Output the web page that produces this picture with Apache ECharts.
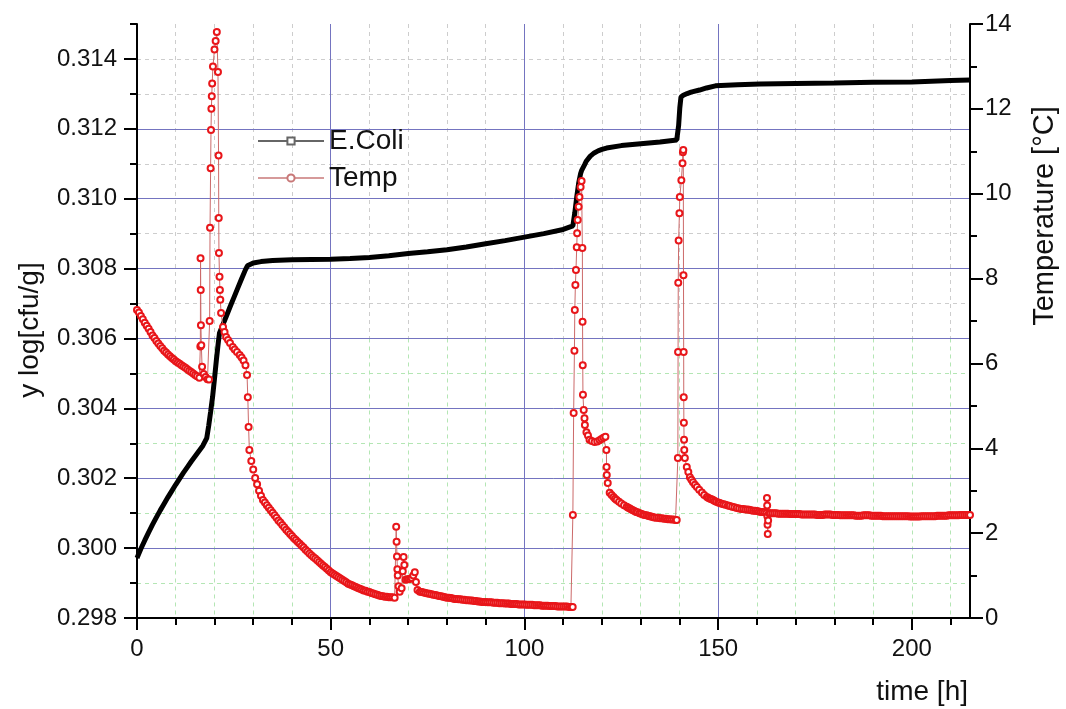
<!DOCTYPE html>
<html>
<head>
<meta charset="utf-8">
<script src="https://cdn.jsdelivr.net/npm/echarts@6/dist/echarts.min.js"></script>
<style>html,body{margin:0;padding:0;background:#fff}#c{width:1066px;height:709px}</style>
</head>
<body>
<div id="c"></div>
<script>
// ---- data ----
const timeTicks = [0, 50, 100, 150, 200];
const timeMinorTicks = [10, 20, 30, 40, 60, 70, 80, 90, 110, 120, 130, 140, 160, 170, 180, 190, 210];
const logTicks = [0.298, 0.300, 0.302, 0.304, 0.306, 0.308, 0.310, 0.312, 0.314];
const logMinorTicks = [0.299, 0.301, 0.303, 0.305, 0.307, 0.309, 0.311, 0.313, 0.315];
const tempTicks = [0, 2, 4, 6, 8, 10, 12, 14];
const tempMinorTicks = [1, 3, 5, 7, 9, 11, 13];

const ecoli = [
 [0,0.29972],[1,0.29998],[2,0.30022],[3,0.30045],[4,0.30067],[5,0.30088],[6,0.30108],[7,0.30127],
 [8,0.30146],[9,0.30164],[10,0.30182],[11,0.30199],[12,0.30216],[13,0.30232],[14,0.30248],[15,0.30263],
 [16,0.30278],[17,0.30293],[18,0.30315],[18.5,0.3035],[19,0.3039],[19.5,0.30432],[20,0.30485],[20.5,0.3054],
 [21,0.3059],[21.3,0.30616],[22,0.30635],[23,0.30662],[24,0.3069],[25,0.30717],[26,0.30744],[27,0.30771],
 [28,0.30797],[28.5,0.30808],[29,0.30813],[30,0.30816],[32,0.3082],[35,0.30823],[40,0.30825],[45,0.30826],
 [50,0.30827],[55,0.30829],[60,0.30832],[65,0.30837],[70,0.30843],[75,0.30848],[80,0.30854],[85,0.30862],
 [90,0.30871],[95,0.3088],[100,0.3089],[105,0.309],[110,0.30912],[112.5,0.30922],[113,0.3096],[113.5,0.31005],
 [114,0.31045],[114.5,0.31072],[114.8,0.31082],[115.5,0.31097],[116,0.31108],[117,0.31122],[118,0.31131],
 [119,0.31137],[120,0.31141],[121.2,0.31145],[125,0.31152],[130,0.31157],[135,0.31162],[139.3,0.31168],
 [139.8,0.3121],[140.1,0.3126],[140.4,0.31291],[141,0.31296],[142,0.31301],[143,0.31305],[145.2,0.31311],
 [147,0.31317],[149.3,0.31323],[155,0.31326],[160.8,0.31328],[170,0.3133],[180,0.31331],[190,0.31333],
 [200,0.31334],[210,0.31338],[215,0.3134]
];

const temp = [
 [0,7.26],[0.5,7.2],[1,7.12],[1.5,7.04],[2,6.96],[2.5,6.89],[3,6.82],[3.5,6.74],[4,6.66],[4.5,6.6],[5,6.53],
 [5.5,6.47],[6,6.41],[6.5,6.36],[7,6.3],[7.5,6.26],[8,6.21],[8.5,6.17],[9,6.13],[9.5,6.09],[10,6.05],[10.5,6.02],
 [11,5.99],[11.5,5.96],[12,5.93],[12.5,5.9],[13,5.86],[13.5,5.83],[14,5.8],[14.5,5.76],[15,5.73],[15.5,5.7],
 [16.1,5.66],[16.35,6.4],[16.4,8.48],[16.45,7.73],[16.5,6.9],[16.6,6.43],[16.8,5.92],[17.2,5.75],[17.7,5.68],
 [18.2,5.63],[18.6,5.62],[18.75,7.0],[18.85,9.2],[19.0,10.6],[19.1,11.5],[19.2,12.0],[19.3,12.3],[19.4,12.6],
 [19.6,13.0],[20.0,13.4],[20.3,13.6],[20.6,13.81],[20.9,12.87],[21.05,10.9],[21.1,9.43],[21.15,8.6],[21.3,8.04],
 [21.4,7.73],[21.5,7.5],[21.7,7.19],[22.2,6.86],[22.6,6.74],[23.0,6.62],[23.5,6.55],[24.0,6.48],[24.7,6.39],
 [25.2,6.33],[25.8,6.27],[26.5,6.2],[27.0,6.14],[27.5,6.07],[28.0,5.96],[28.4,5.73],[28.6,5.2],[28.8,4.5],
 [29,3.96],[29.5,3.7],[30,3.5],[30.5,3.3],[31,3.15],[31.5,3.0],[32,2.88],[32.5,2.78],[33,2.72],[33.5,2.66],
 [34,2.6],[34.5,2.54],[35,2.48],[35.5,2.42],[36,2.36],[36.5,2.3],[37,2.25],[37.5,2.19],[38,2.14],[38.5,2.08],
 [39,2.03],[39.5,1.98],[40,1.93],[40.5,1.88],[41,1.84],[41.5,1.79],[42,1.75],[42.5,1.7],[43,1.66],[43.5,1.61],
 [44,1.57],[44.5,1.52],[45,1.48],[45.5,1.44],[46,1.4],[46.5,1.36],[47,1.32],[47.5,1.28],[48,1.24],[48.5,1.2],
 [49,1.16],[49.5,1.12],[50,1.08],[50.5,1.05],[51,1.02],[51.5,0.99],[52,0.96],[52.5,0.93],[53,0.9],[53.5,0.87],
 [54,0.84],[54.5,0.81],[55,0.79],[55.5,0.77],[56,0.75],[56.5,0.73],[57,0.71],[57.5,0.69],[58,0.67],[58.5,0.65],
 [59,0.64],[59.5,0.62],[60,0.61],[60.5,0.59],[61,0.58],[61.5,0.56],[62,0.55],[62.5,0.53],[63,0.52],[63.5,0.51],
 [64,0.5],[64.5,0.5],[65,0.49],[65.5,0.49],[66,0.49],[66.5,0.48],
 [66.9,2.15],[67.0,1.8],[67.1,1.45],[67.2,1.15],[67.3,1.0],[67.5,0.75],[67.8,0.62],[68.3,0.7],[68.6,1.1],
 [68.8,1.44],[69.0,1.25],[69.3,0.9],[69.7,0.91],[70.1,0.92],[70.5,0.92],[70.9,0.94],[71.3,1.0],[71.7,1.08],
 [72.0,0.85],[72.4,0.66],[73,0.62],[73.5,0.61],[74,0.6],[74.5,0.59],[75,0.58],[75.5,0.57],[76,0.56],[76.5,0.55],
 [77,0.54],[77.5,0.53],[78,0.52],[78.5,0.51],[79,0.5],[79.5,0.49],[80,0.48],[80.5,0.48],[81,0.47],[81.5,0.46],
 [82,0.45],[82.5,0.45],[83,0.44],[83.5,0.44],[84,0.43],[84.5,0.43],[85,0.42],[85.5,0.42],[86,0.41],[86.5,0.41],
 [87,0.4],[87.5,0.4],[88,0.39],[88.5,0.39],[89,0.38],[89.5,0.38],[90,0.38],[90.5,0.37],[91,0.37],[91.5,0.37],
 [92,0.36],[92.5,0.36],[93,0.36],[93.5,0.35],[94,0.35],[94.5,0.35],[95,0.34],[95.5,0.34],[96,0.34],[96.5,0.33],
 [97,0.33],[97.5,0.33],[98,0.33],[98.5,0.32],[99,0.32],[99.5,0.32],[100,0.32],[100.5,0.31],[101,0.31],
 [101.5,0.31],[102,0.31],[102.5,0.3],[103,0.3],[103.5,0.3],[104,0.3],[104.5,0.29],[105,0.29],[105.5,0.29],
 [106,0.29],[106.5,0.28],[107,0.28],[107.5,0.28],[108,0.28],[108.5,0.27],[109,0.27],[109.5,0.27],
 [110,0.27],[110.5,0.27],[111,0.27],[111.5,0.26],[112,0.26],[112.45,0.26],
 [112.5,2.43],[112.7,4.83],[112.9,6.3],[113.0,7.26],[113.15,7.85],[113.3,8.2],[113.5,8.74],[113.6,9.07],
 [113.75,9.38],[114.0,9.69],[114.2,9.92],[114.5,10.16],[114.75,10.3],[114.95,8.72],[115.0,6.98],[115.05,5.96],
 [115.1,5.26],[115.3,4.9],[115.5,4.71],[115.6,4.55],[116.0,4.38],[116.4,4.3],[116.8,4.2],[117.4,4.17],
 [118.1,4.15],[118.8,4.16],[119.4,4.19],[119.9,4.22],[120.4,4.25],[120.9,4.27],[121.15,3.96],[121.2,3.56],
 [121.25,3.37],[121.5,3.18],[122.0,2.95],[122.5,2.9],[123,2.85],[123.4,2.81],[123.8,2.78],[124.4,2.74],[125,2.7],
 [125.7,2.66],[126.4,2.62],[126.8,2.6],[127.2,2.58],[127.6,2.56],[128,2.54],[128.4,2.52],[128.8,2.5],
 [129.2,2.49],[129.7,2.47],[130.1,2.46],[130.6,2.44],[131,2.43],[131.5,2.42],[131.9,2.41],[132.3,2.4],
 [132.7,2.39],[133.1,2.38],[133.5,2.37],[134,2.36],[134.5,2.36],[135,2.35],[135.5,2.35],[136,2.34],
 [136.5,2.34],[137,2.33],[137.5,2.33],[138,2.32],[138.5,2.32],[139,2.31],[139.3,2.31],
 [139.6,3.77],[139.65,6.27],[139.7,7.9],[139.8,8.9],[140.0,9.54],[140.1,9.92],[140.5,10.32],[140.8,10.72],
 [140.9,10.98],[141.0,11.03],[141.05,8.08],[141.1,6.27],[141.12,5.2],[141.15,4.6],[141.2,4.2],[141.25,3.96],
 [141.4,3.77],[141.9,3.56],[142.3,3.44],[142.7,3.32],[143.1,3.26],[143.5,3.2],[144,3.14],[144.5,3.09],
 [145.1,3.02],[145.8,2.96],[146.4,2.9],[147.1,2.85],[147.5,2.83],[147.9,2.81],[148.3,2.8],[148.7,2.78],
 [149.1,2.76],[149.5,2.74],[150,2.72],[150.4,2.71],[150.9,2.69],[151.4,2.68],[151.9,2.67],[152.5,2.65],
 [153,2.64],[153.6,2.62],[154.2,2.61],[154.8,2.59],[155.4,2.58],[156,2.57],[156.5,2.57],[157,2.56],
 [157.5,2.56],[158,2.55],[158.5,2.54],[159,2.53],[159.5,2.53],[160,2.52],[160.5,2.51],[161,2.5],[161.5,2.5],
 [162,2.49],[162.5,2.48],[162.6,2.83],[162.65,2.65],[162.7,2.4],[162.75,2.2],[162.8,1.98],
 [162.9,2.3],[163.1,2.47],[163.5,2.47],[164,2.47],[164.5,2.47],[165,2.47],[165.5,2.46],[166,2.46],[166.5,2.46],
 [167,2.46],[167.5,2.46],[168,2.46],[168.5,2.45],[169,2.45],[169.5,2.45],[170,2.45],[170.5,2.45],[171,2.45],
 [171.5,2.44],[172,2.44],[172.5,2.44],[173,2.44],[173.5,2.44],[174,2.44],[174.5,2.44],[175,2.44],[175.5,2.43],
 [176,2.43],[176.5,2.43],[177,2.43],[177.5,2.44],[178,2.44],[178.5,2.44],[179,2.44],[179.5,2.43],[180,2.43],
 [180.5,2.43],[181,2.43],[181.5,2.42],[182,2.42],[182.5,2.42],[183,2.42],[183.5,2.42],[184,2.42],[184.5,2.42],
 [185,2.42],[185.5,2.41],[186,2.41],[186.5,2.41],[187,2.41],[187.5,2.42],[188,2.42],[188.5,2.42],[189,2.42],
 [189.5,2.41],[190,2.41],[190.5,2.41],[191,2.41],[191.5,2.41],[192,2.41],[192.5,2.4],[193,2.4],[193.5,2.4],
 [194,2.4],[194.5,2.4],[195,2.4],[195.5,2.4],[196,2.4],[196.5,2.4],[197,2.4],[197.5,2.4],[198,2.4],[198.5,2.4],
 [199,2.4],[199.5,2.39],[200,2.39],[200.5,2.39],[201,2.39],[201.5,2.39],[202,2.39],[202.5,2.4],[203,2.4],
 [203.5,2.4],[204,2.4],[204.5,2.4],[205,2.4],[205.5,2.4],[206,2.4],[206.5,2.41],[207,2.41],[207.5,2.41],
 [208,2.41],[208.5,2.41],[209,2.41],[209.5,2.42],[210,2.42],[210.5,2.42],[211,2.42],[211.5,2.42],[212,2.42],
 [212.5,2.43],[213,2.43],[213.5,2.43],[214,2.43],[214.5,2.43],[215,2.43]
];

// ---- chart ----
const FONT = "'Liberation Sans', Arial, sans-serif";
const BLUE = '#7474c0';
const GRAY_MINOR = '#cdcdcd';
const GREEN_MINOR = '#b4e6b4';
const Y_MIN = 0.298, Y_SPLIT = 0.306, Y_MAX = 0.315;
// pixel row of Y_SPLIT inside the plot (plot spans 24..618)
const splitPx = 618 - (Y_SPLIT - Y_MIN) / (Y_MAX - Y_MIN) * 594;

const chart = echarts.init(document.getElementById('c'));
const minorX = (gi, color) => ({
  type: 'value', gridIndex: gi, min: 0, max: 215, interval: 10, z: 0,
  axisLine: {show: false}, axisTick: {show: false}, axisLabel: {show: false},
  splitLine: {show: true, showMinLine: false, showMaxLine: false, lineStyle: {color: color, type: [4, 4], width: 1}}
});
const minorY = (gi, mn, mx, color) => ({
  type: 'value', gridIndex: gi, min: mn, max: mx, interval: 0.001, z: 0,
  axisLine: {show: false}, axisTick: {show: false}, axisLabel: {show: false},
  splitLine: {show: true, showMinLine: false, showMaxLine: false, lineStyle: {color: color, type: [4, 4], width: 1}}
});

chart.setOption({
  animation: false,
  backgroundColor: '#fff',
  textStyle: {fontFamily: FONT},
  grid: [
    {left: 137, right: 96, top: 24, bottom: 91},
    {left: 137, right: 96, top: 24, bottom: 709 - splitPx},
    {left: 137, right: 96, top: splitPx, bottom: 91}
  ],
  legend: {
    orient: 'vertical', left: 252, top: 122, itemWidth: 66, itemHeight: 9, itemGap: 9,
    textStyle: {fontSize: 28, color: '#111', fontFamily: FONT},
    data: [
      {name: 'E.Coli', lineStyle: {color: '#666', width: 2}, itemStyle: {color: '#666'}},
      {name: 'Temp', lineStyle: {color: '#c87878', width: 1.5}, itemStyle: {color: '#c87878'}}
    ]
  },
  xAxis: [
    {
      type: 'value', gridIndex: 0, position: 'bottom', min: 0, max: 215, interval: 50, z: 3,
      axisLine: {show: true, onZero: false, lineStyle: {color: '#000', width: 2}},
      axisTick: {show: true, customValues: timeTicks, length: 12, lineStyle: {color: '#000', width: 2}},
      axisLabel: {customValues: timeTicks, fontSize: 24, color: '#111', margin: 19, fontFamily: FONT},
      splitLine: {show: true, showMinLine: false, showMaxLine: false, lineStyle: {color: BLUE, width: 1}}
    },
    {
      type: 'value', gridIndex: 0, position: 'bottom', offset: 0, min: 0, max: 215, z: 3,
      axisLine: {show: false, onZero: false},
      axisTick: {show: true, customValues: timeMinorTicks, length: 7, lineStyle: {color: '#000', width: 2}},
      axisLabel: {show: false}, splitLine: {show: false}
    },
    minorX(1, GRAY_MINOR),
    minorX(2, GREEN_MINOR)
  ],
  yAxis: [
    {
      type: 'value', gridIndex: 0, position: 'left', min: Y_MIN, max: Y_MAX, interval: 0.002, z: 3,
      axisLine: {show: true, onZero: false, lineStyle: {color: '#000', width: 2}},
      axisTick: {show: true, customValues: logTicks, length: 13, lineStyle: {color: '#000', width: 2}},
      axisLabel: {customValues: logTicks, fontSize: 24, color: '#111', margin: 20, fontFamily: FONT,
                  formatter: (v) => v.toFixed(3)},
      splitLine: {show: true, showMinLine: false, showMaxLine: false, lineStyle: {color: BLUE, width: 1}}
    },
    {
      type: 'value', gridIndex: 0, position: 'left', offset: 0, min: Y_MIN, max: Y_MAX, z: 3,
      axisLine: {show: false, onZero: false},
      axisTick: {show: true, customValues: logMinorTicks, length: 7, lineStyle: {color: '#000', width: 2}},
      axisLabel: {show: false}, splitLine: {show: false}
    },
    {
      type: 'value', gridIndex: 0, position: 'right', min: 0, max: 14, interval: 2, z: 3,
      axisLine: {show: true, onZero: false, lineStyle: {color: '#000', width: 2}},
      axisTick: {show: true, customValues: tempTicks, length: 13, lineStyle: {color: '#000', width: 2}},
      axisLabel: {customValues: tempTicks, fontSize: 24, color: '#111', margin: 15, fontFamily: FONT},
      splitLine: {show: false}
    },
    {
      type: 'value', gridIndex: 0, position: 'right', offset: 0, min: 0, max: 14, z: 3,
      axisLine: {show: false, onZero: false},
      axisTick: {show: true, customValues: tempMinorTicks, length: 7, lineStyle: {color: '#000', width: 2}},
      axisLabel: {show: false}, splitLine: {show: false}
    },
    minorY(1, Y_SPLIT, Y_MAX, GRAY_MINOR),
    minorY(2, Y_MIN, Y_SPLIT, GREEN_MINOR)
  ],
  series: [
    {
      name: 'E.Coli', type: 'line', xAxisIndex: 0, yAxisIndex: 0, data: ecoli,
      symbol: 'emptyRect', showSymbol: false, symbolSize: 5, z: 4,
      lineStyle: {color: '#000', width: 5}, itemStyle: {color: '#000'}
    },
    {
      name: 'Temp', type: 'line', xAxisIndex: 0, yAxisIndex: 2, data: temp,
      symbol: 'emptyCircle', symbolSize: 6, showAllSymbol: true, z: 5,
      lineStyle: {color: '#cc6a6a', width: 1}, itemStyle: {color: '#e8161a', borderWidth: 1.3}
    }
  ],
  graphic: [
    {type: 'text', x: 30, y: 330, rotation: Math.PI / 2,
     style: {text: 'y log[cfu/g]', fontSize: 28, fontFamily: FONT, fill: '#111', align: 'center', verticalAlign: 'middle'}},
    {type: 'text', x: 1045, y: 216, rotation: Math.PI / 2,
     style: {text: 'Temperature [°C]', fontSize: 29, fontFamily: FONT, fill: '#111', align: 'center', verticalAlign: 'middle'}},
    {type: 'text', x: 968, y: 692,
     style: {text: 'time [h]', fontSize: 28, fontFamily: FONT, fill: '#111', align: 'right', verticalAlign: 'middle'}}
  ]
});
</script>
</body>
</html>
